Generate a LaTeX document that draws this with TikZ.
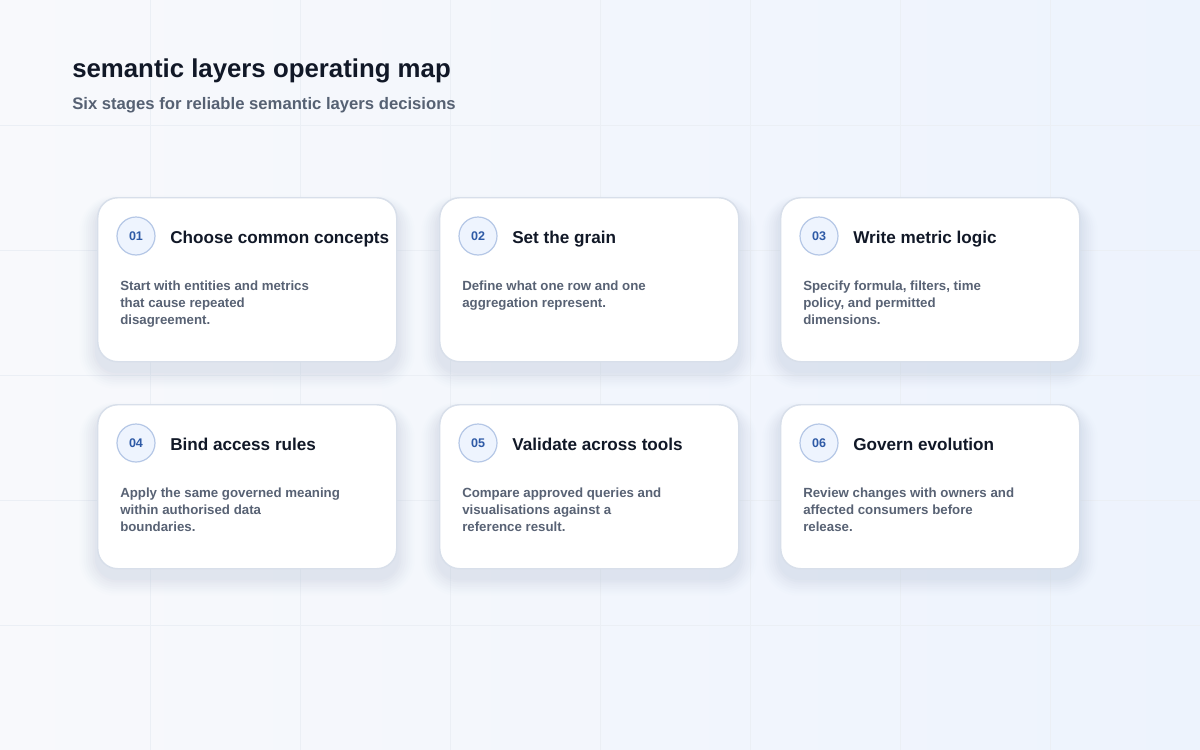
\documentclass[tikz,border=0pt]{standalone}
\usepackage{fontspec}
\setmainfont{Liberation Sans}
\definecolor{bgA}{HTML}{F8F9FC}
\definecolor{bgB}{HTML}{EDF3FD}
\definecolor{gridc}{HTML}{EBEFF5}
\definecolor{ink}{HTML}{111827}
\definecolor{sub}{HTML}{566173}
\definecolor{desc}{HTML}{586274}
\definecolor{cardline}{HTML}{D8DFEA}
\definecolor{shadowc}{HTML}{AEBBD3}
\definecolor{numblue}{HTML}{2E5AA6}
\definecolor{circfill}{HTML}{EEF4FE}
\definecolor{circline}{HTML}{B5C7E6}
\tikzset{
  cardbox/.style={draw=cardline, line width=1.1pt, fill=white, rounded corners=15pt},
  numcirc/.style={circle, draw=circline, line width=0.9pt, fill=circfill, minimum size=28.5pt, inner sep=0pt,
    text=numblue, font={\fontsize{9.4}{11}\selectfont\bfseries}},
  cardtitle/.style={anchor=base west, inner sep=0pt, text=ink, font={\fontsize{12.85}{16}\selectfont\bfseries}},
  carddesc/.style={anchor=north west, inner sep=0pt, align=left, text=desc, font={\fontsize{9.95}{12.75}\selectfont\bfseries}},
}
\newcommand{\stagecard}[6]{%
  % #1 name, #2 x, #3 y, #4 number, #5 title, #6 description
  \foreach \k/\o in {1/0.055,2/0.05,3/0.045,4/0.04,5/0.035,6/0.03,7/0.022,8/0.015}{
    \fill[shadowc, opacity=\o, rounded corners=15pt+\k*1.5pt]
      ({#2-\k*2.2},{#3+8-\k*1.2}) rectangle ({#2+300+\k*2.2},{#3+164+10+\k*2.2});
  }
  \node[cardbox, anchor=north west, minimum width=224.25pt, minimum height=123pt, inner sep=0pt] (#1) at (#2,#3) {};
  \node[numcirc] (#1n) at ({#2+39},{#3+39}) {#4};
  \node[cardtitle] (#1t) at ({#2+73},{#3+46}) {#5};
  \node[carddesc] (#1d) at ({#2+23},{#3+83.5}) {#6};
}
\begin{document}
\begin{tikzpicture}[x=0.75pt, y=-0.75pt]
\useasboundingbox (0,0) rectangle (1200,750);
\shade[shading=axis, shading angle=-60, left color=bgA, right color=bgB] (0,0) rectangle (1200,750);
\foreach \gx in {150,300,...,1050} \draw[gridc, line width=0.6pt] (\gx,0) -- (\gx,750);
\foreach \gy in {125,250,...,625} \draw[gridc, line width=0.6pt] (0,\gy) -- (1200,\gy);
\node[anchor=base west, inner sep=0pt, text=ink, font={\fontsize{19.35}{23}\selectfont\bfseries}] (title) at (72,77) {semantic layers operating map};
\node[anchor=base west, inner sep=0pt, text=sub, font={\fontsize{12.5}{15}\selectfont\bfseries}] (subtitle) at (72,109.5) {Six stages for reliable semantic layers decisions};
\stagecard{c1}{97}{197}{01}{Choose common concepts}{Start with entities and metrics\\that cause repeated\\disagreement.}
\stagecard{c2}{439}{197}{02}{Set the grain}{Define what one row and one\\aggregation represent.}
\stagecard{c3}{780}{197}{03}{Write metric logic}{Specify formula, filters, time\\policy, and permitted\\dimensions.}
\stagecard{c4}{97}{404}{04}{Bind access rules}{Apply the same governed meaning\\within authorised data\\boundaries.}
\stagecard{c5}{439}{404}{05}{Validate across tools}{Compare approved queries and\\visualisations against a\\reference result.}
\stagecard{c6}{780}{404}{06}{Govern evolution}{Review changes with owners and\\affected consumers before\\release.}
\end{tikzpicture}
\end{document}
